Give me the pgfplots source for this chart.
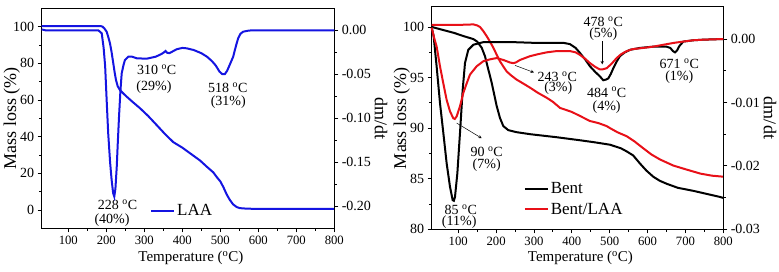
\documentclass[border=0pt]{standalone}
\usepackage{fontspec}
\setmainfont{Liberation Serif}
\usepackage{pgfplots}
\pgfplotsset{compat=1.18}
\definecolor{cblue}{RGB}{20,20,225}
\definecolor{cred}{RGB}{232,16,24}
\tikzset{ann/.style={font=\fontsize{14}{16}\selectfont, inner sep=0pt, anchor=center}}
\pgfplotsset{
  panel/.style={
    scale only axis, anchor=south west, clip=false,
    xmin=30, xmax=800, minor y tick num=1,
    tick align=outside, major tick length=4pt, minor tick length=2.5pt,
    every tick/.style={line width=0.8pt, black},
    axis line style={line width=0.9pt},
    yticklabel style={font=\fontsize{14}{16}\selectfont},
    xticklabel style={font=\fontsize{12.7}{15}\selectfont},
    ylabel style={font=\fontsize{18}{20}\selectfont},
    xlabel style={font=\fontsize{15}{17}\selectfont},
    /pgf/number format/assume math mode=true,
  },
  first/.style={panel, xtick pos=lower, ytick pos=left,
    xtick={100,200,...,800}, minor x tick num=1,
    xlabel={Temperature (\textsuperscript{o}C)}, ylabel={Mass loss (\%)}},
  second/.style={panel, axis x line=none, axis y line*=right, ytick pos=right,
    xtick=\empty, ylabel={dm/dt}},
}
\begin{document}
\begin{tikzpicture}[x=1pt,y=1pt]
\path[use as bounding box] (0,0) rectangle (779,271);
% ---------------- left panel ----------------
\begin{axis}[first, at={(41.7pt,42.7pt)}, width=292.6pt, height=220pt,
  ymin=-10, ymax=110, ytick={0,20,...,100},
  xlabel style={at={(axis description cs:0.51,-0.135)}, anchor=center},
  ylabel style={at={(axis description cs:-0.1025,0.5)}, anchor=center},
  legend style={draw=none, fill=none, at={(axis description cs:0.37,0.08)}, anchor=west,
    font=\fontsize{17}{19}\selectfont, inner sep=0pt},
  legend image code/.code={\draw[#1, line width=2pt] (0pt,0pt) -- (23pt,0pt);},
  ]
\addplot[cblue, line width=2pt] coordinates {
(30,100.3)(100,100.3)(185,100.3)(190,100)(195,99)(201,97.2)(205,94.5)(209.7,90.9)(214,86)(218.4,80)(222,75)(225.5,70.9)(230,67.5)(236,65.4)(245,63.5)(253.7,61.8)(270,58.8)(288.7,55.5)(310,51.3)(332.6,46.3)(355,41.3)(376.3,37)(400,34)(420,31)(446.6,27)(465,23.5)(481.6,20.5)(490.5,18)(500,15.6)(508,12.5)(516.8,8.5)(525,5.5)(534,3)(543,1.6)(551.8,1.0)(570,0.7)(600,0.6)(800,0.6)};
\addlegendentry{LAA}
\node[ann] at (axis cs:229.5,2.9) {228 \textsuperscript{o}C};
\node[ann] at (axis cs:215,-5.7) {(40\%)};
\node[ann] at (axis cs:332.6,76.5) {310 \textsuperscript{o}C};
\node[ann] at (axis cs:325.5,66.9) {(29\%)};
\node[ann] at (axis cs:519.8,66.6) {518 \textsuperscript{o}C};
\node[ann] at (axis cs:521,58.8) {(31\%)};
\end{axis}
\begin{axis}[second, at={(41.7pt,42.7pt)}, width=292.6pt, height=220pt,
  ymin=-0.225, ymax=0.025, ytick={-0.2,-0.15,-0.1,-0.05,0},
  yticklabels={-0.20,-0.15,-0.10,-0.05,0.00},
  ylabel style={at={(axis description cs:1.16,0.5)}, anchor=center, rotate=180},
  ]
\addplot[cblue, line width=2pt] coordinates {
(30,0.001)(40,0.000)(100,0.000)(179,0.000)(188,-0.0034)(193,-0.02)(197,-0.041)(201,-0.08)(205,-0.117)(210,-0.150)(214,-0.170)(218,-0.185)(221,-0.189)(224,-0.180)(227.5,-0.155)(230,-0.13)(233.5,-0.098)(237,-0.07)(240.5,-0.049)(245,-0.040)(249,-0.0338)(258,-0.030)(268,-0.030)(280,-0.0318)(306,-0.0323)(330,-0.030)(345,-0.027)(352,-0.025)(356,-0.0235)(360,-0.0255)(366,-0.026)(385,-0.0216)(400,-0.0200)(412,-0.0205)(430,-0.0224)(450,-0.026)(465,-0.030)(478,-0.035)(488,-0.040)(498,-0.047)(505,-0.0497)(512,-0.0497)(518,-0.046)(526,-0.038)(534,-0.030)(541,-0.018)(547,-0.0091)(553,-0.004)(560,-0.0016)(575,-0.0003)(590,0.000)(800,0.000)};
\end{axis}
% ---------------- right panel ----------------
\begin{axis}[first, at={(431.7pt,41.7pt)}, width=291.6pt, height=222.6pt,
  ymin=80, ymax=102, ytick={80,85,...,100},
  xlabel style={at={(axis description cs:0.51,-0.129)}, anchor=center},
  ylabel style={at={(axis description cs:-0.103,0.5)}, anchor=center},
  legend style={draw=none, fill=none, at={(axis description cs:0.315,0.136)}, anchor=west,
    font=\fontsize{17}{19}\selectfont, inner sep=0pt, row sep=4pt},
  legend cell align=left,
  legend image code/.code={\draw[#1, line width=2pt] (0pt,0pt) -- (23pt,0pt);},
  ]
\addplot[black, line width=2pt] coordinates {
(30,100)(60,99.7)(90,99.4)(113.5,99.1)(140,98.8)(150,98.55)(162,97.95)(170.7,97.1)(179.5,95.8)(188.3,94.5)(201.5,92.2)(210.3,91.0)(219.1,90.2)(232.3,89.8)(254,89.6)(290,89.4)(360,89.1)(421.6,88.8)(460,88.6)(500.8,88.36)(530,88)(544.8,87.7)(562,87.3)(580,86.5)(597,85.8)(615,85.2)(632,84.8)(650.5,84.5)(680,84.1)(721,83.8)(756,83.5)(791,83.2)(800,83.1)};
\addlegendentry{Bent}
\addplot[cred, line width=2pt] coordinates {
(30,100.2)(100,100.2)(140,100.25)(150,100.15)(157.5,100)(166,99.6)(175,99.1)(183,98.6)(192.7,97.95)(201,97.3)(210.3,96.6)(219,96.1)(228,95.6)(240,95.2)(254,94.8)(272,94.4)(289.6,94)(310,93.5)(333.6,93)(350,92.6)(368.8,92.0)(400,91.6)(421.6,91.2)(448,90.7)(470,90.5)(492,90.2)(500.8,90.0)(520,89.6)(544.8,89.2)(565,88.7)(588.9,88.0)(610,87.4)(632.9,86.9)(668,86.3)(703.3,85.9)(740,85.5)(770,85.3)(800,85.2)};
\addlegendentry{Bent/LAA}
\node[ann] at (axis cs:483,100.5) {478 \textsuperscript{o}C};
\node[ann] at (axis cs:483,99.25) {(5\%)};
\draw[-stealth, line width=0.5pt] (axis cs:480.5,98.6) -- (axis cs:480.5,96.3);
\node[ann] at (axis cs:361.7,95.05) {243 \textsuperscript{o}C};
\node[ann] at (axis cs:364.3,93.92) {(3\%)};
\draw[-stealth, line width=0.5pt] (axis cs:250,96.2) -- (axis cs:300,95.5);
\node[ann] at (axis cs:492,93.55) {484 \textsuperscript{o}C};
\node[ann] at (axis cs:492,92.1) {(4\%)};
\node[ann] at (axis cs:683.8,96.35) {671 \textsuperscript{o}C};
\node[ann] at (axis cs:683.8,95.03) {(1\%)};
\node[ann] at (axis cs:175.2,87.67) {90 \textsuperscript{o}C};
\node[ann] at (axis cs:175.2,86.38) {(7\%)};
\draw[-stealth, line width=0.5pt] (axis cs:96,90.5) -- (axis cs:162,89.0);
\node[ann] at (axis cs:106.8,81.92) {85 \textsuperscript{o}C};
\node[ann] at (axis cs:102.6,80.68) {(11\%)};
\end{axis}
\begin{axis}[second, at={(431.7pt,41.7pt)}, width=291.6pt, height=222.6pt,
  ymin=-0.03, ymax=0.0051, ytick={-0.03,-0.02,-0.01,0},
  yticklabels={-0.03,-0.02,-0.01,0.00},
  ylabel style={at={(axis description cs:1.16,0.5)}, anchor=center, rotate=180},
  ]
\addplot[black, line width=2pt] coordinates {
(30,0.0018)(35,0.0005)(43,-0.0043)(51.9,-0.0101)(60.7,-0.0148)(69.5,-0.0196)(78.3,-0.0233)(85.4,-0.0254)(88.5,-0.0255)(91.5,-0.0249)(97.7,-0.0212)(104.7,-0.0148)(111.8,-0.0080)(117.9,-0.0038)(126.7,-0.0017)(140,-0.0009)(166,-0.0005)(250,-0.0005)(300,-0.0006)(378,-0.0006)(395,-0.0008)(410,-0.0014)(421.6,-0.0022)(435,-0.0032)(448,-0.0043)(462,-0.0052)(474.4,-0.0059)(483,-0.0065)(490,-0.0064)(496.4,-0.0062)(503,-0.0055)(509.6,-0.0046)(518,-0.0036)(527,-0.0027)(540,-0.0021)(553.6,-0.0017)(580,-0.0014)(615,-0.0012)(650,-0.0012)(660,-0.0014)(667,-0.0019)(672.5,-0.0021)(678,-0.0018)(684,-0.0011)(694.5,-0.0004)(720,-0.0002)(747,-0.0001)(800,0.0)};
\addplot[cred, line width=2pt] coordinates {
(30,0.0018)(35,0.0005)(43.1,-0.0012)(51.9,-0.0043)(60.7,-0.0070)(69.5,-0.0096)(78.3,-0.0114)(87.1,-0.0125)(91,-0.0126)(95.9,-0.0122)(104.7,-0.0106)(113.5,-0.0085)(122.3,-0.0070)(131.1,-0.0056)(148.7,-0.0043)(166.3,-0.0035)(184,-0.0032)(201.5,-0.0030)(219.1,-0.0033)(236.7,-0.0037)(245,-0.0038)(252,-0.0037)(263.2,-0.0033)(289.6,-0.0027)(310,-0.0024)(333.6,-0.0021)(360,-0.0019)(377.6,-0.0019)(395,-0.0019)(410,-0.0021)(421.6,-0.0025)(435,-0.0031)(448,-0.0038)(462,-0.0044)(474.4,-0.0048)(480,-0.0048)(492,-0.0046)(505,-0.0039)(518.4,-0.0030)(530,-0.0024)(545,-0.0019)(560,-0.0016)(589,-0.0014)(615,-0.0012)(641.8,-0.0009)(670,-0.0006)(694.5,-0.0004)(720,-0.0002)(747,-0.0001)(800,0.0)};
\end{axis}
\end{tikzpicture}
\end{document}
